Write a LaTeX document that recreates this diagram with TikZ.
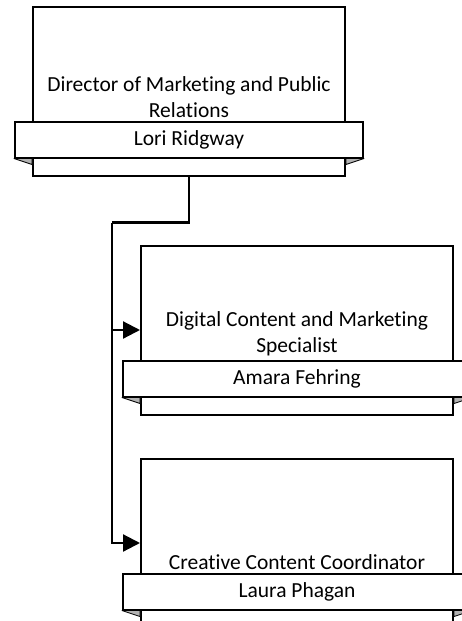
\documentclass[tikz,border=0pt]{standalone}
\usepackage{fontspec}
\setmainfont{Carlito}[Ligatures=NoCommon]
\usepackage{tikz}
\usetikzlibrary{arrows.meta,positioning}
\tikzstyle{posbox} = [rectangle, draw=black, line width=2pt, fill=white, minimum width=312pt, minimum height=169pt, inner sep=0pt]
\tikzstyle{namebar} = [rectangle, draw=black, line width=2pt, fill=white, minimum width=348pt, minimum height=36pt, inner sep=0pt, text centered, font=\fontsize{21.5}{26}\selectfont]
\tikzstyle{titletext} = [draw=none, fill=none, align=center, inner sep=0pt, font=\fontsize{21.5}{26}\selectfont]
\tikzstyle{fold} = [fill=black!30, draw=black, line width=0.8pt, line join=round]
\tikzstyle{link} = [draw, line width=2.2pt]
\tikzstyle{tedge} = [draw, line width=2.2pt, -{Triangle[length=17pt,width=17pt]}]

\begin{document}
\begin{tikzpicture}[x=1pt, y=-1pt]
\useasboundingbox (0,0) rectangle (461,621);

% boxes ==============================

% director
\node[posbox] (dir) at (189,91) {};
\node[namebar, above=18pt of dir.south] (dirname) {Lori Ridgway};
\node[titletext, above=3pt of dirname] (dirtitle) {Director of Marketing and Public\\Relations};

% specialist
\node[posbox, below right=68pt and 108pt of dir.south west] (spec) {};
\node[namebar, above=18pt of spec.south] (specname) {Amara Fehring};
\node[titletext, above=3pt of specname] (spectitle) {Digital Content and Marketing\\Specialist};

% coordinator
\node[posbox, below=42pt of spec] (coord) {};
\node[namebar, above=18pt of coord.south] (coordname) {Laura Phagan};
\node[titletext, above=3pt of coordname] (coordtitle) {Creative Content Coordinator};

% banner folds
\foreach \b/\n in {dir/dirname, spec/specname, coord/coordname}{
  \path[fold] (\n.south west) -- (\b.west |- \n.south) -- ([yshift=-6pt]\b.west |- \n.south) -- cycle;
  \path[fold] (\n.south east) -- (\b.east |- \n.south) -- ([yshift=-6pt]\b.east |- \n.south) -- cycle;
}

% edges ==============================

\coordinate (bus) at ([xshift=-28pt, yshift=22pt]spec.north west);

\path[link] (dir.south) |- (bus);
\path[tedge] (bus) |- (spec.west);
\path[tedge] (bus) |- (coord.west);

\end{tikzpicture}
\end{document}
